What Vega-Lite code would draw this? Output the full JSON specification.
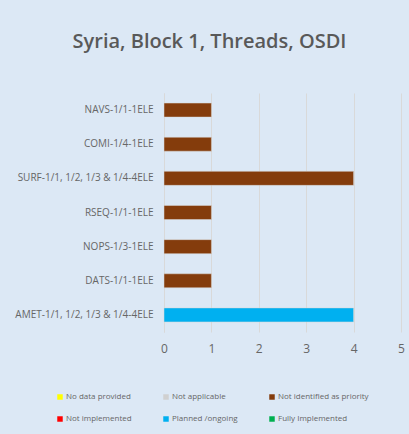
{
  "$schema": "https://vega.github.io/schema/vega-lite/v6.json",
  "autosize": {"type": "none"},
  "padding": {"left": 164, "top": 93, "right": 8, "bottom": 102},
  "width": 237,
  "height": 239,
  "background": "#dce8f5",
  "title": {
    "text": "Syria, Block 1, Threads, OSDI",
    "font": "Open Sans",
    "fontSize": 20,
    "fontWeight": 600,
    "color": "#595959",
    "anchor": "middle",
    "frame": "group",
    "dx": -73,
    "offset": 41
  },
  "data": {
    "values": [
      {"thread": "NAVS-1/1-1ELE", "value": 1, "status": "Not identified as priority"},
      {"thread": "COMI-1/4-1ELE", "value": 1, "status": "Not identified as priority"},
      {"thread": "SURF-1/1, 1/2, 1/3 & 1/4-4ELE", "value": 4, "status": "Not identified as priority"},
      {"thread": "RSEQ-1/1-1ELE", "value": 1, "status": "Not identified as priority"},
      {"thread": "NOPS-1/3-1ELE", "value": 1, "status": "Not identified as priority"},
      {"thread": "DATS-1/1-1ELE", "value": 1, "status": "Not identified as priority"},
      {"thread": "AMET-1/1, 1/2, 1/3 & 1/4-4ELE", "value": 4, "status": "Planned /ongoing"}
    ]
  },
  "mark": {"type": "bar", "stroke": "#d9d9d9", "strokeWidth": 0.5},
  "encoding": {
    "y": {
      "field": "thread",
      "type": "nominal",
      "sort": null,
      "scale": {"paddingInner": 0.59, "paddingOuter": 0.295},
      "axis": {
        "title": null,
        "ticks": false,
        "domain": true,
        "domainColor": "#d9d9d9",
        "labelFont": "Open Sans",
        "labelFontSize": 10,
        "labelColor": "#666666",
        "labelPadding": 11,
        "labelLimit": 200
      }
    },
    "x": {
      "field": "value",
      "type": "quantitative",
      "scale": {"domain": [0, 5]},
      "axis": {
        "title": null,
        "values": [0, 1, 2, 3, 4, 5],
        "grid": true,
        "gridColor": "#d9d9d9",
        "gridWidth": 1,
        "domain": false,
        "ticks": false,
        "labelFlush": false,
        "labelFont": "Open Sans",
        "labelFontSize": 12,
        "labelColor": "#666666",
        "labelPadding": 11
      }
    },
    "color": {
      "field": "status",
      "type": "nominal",
      "scale": {
        "domain": ["No data provided", "Not applicable", "Not identified as priority", "Not implemented", "Planned /ongoing", "Fully Implemented"],
        "range": ["#ffff00", "#d0d0d0", "#843c0c", "#ff0000", "#00b0f0", "#00b050"]
      },
      "legend": {
        "title": null,
        "orient": "none",
        "legendX": -108,
        "legendY": 300,
        "direction": "horizontal",
        "columns": 3,
        "gridAlign": "all",
        "symbolType": "square",
        "symbolSize": 30,
        "symbolStrokeWidth": 0,
        "labelFont": "Open Sans",
        "labelFontSize": 8,
        "labelColor": "#666666",
        "labelOffset": 2,
        "columnPadding": 5,
        "rowPadding": 14
      }
    }
  },
  "config": {"view": {"stroke": null}}
}
